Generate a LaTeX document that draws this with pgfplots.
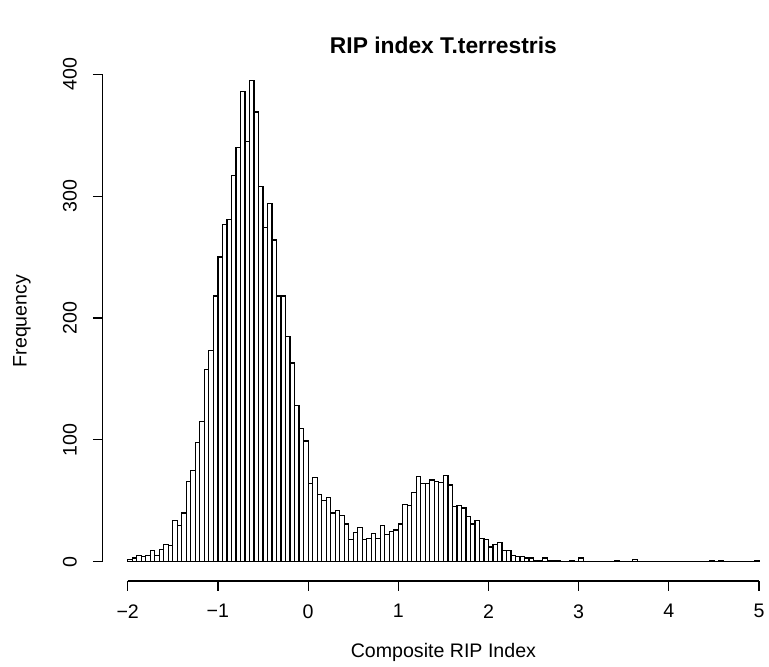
\documentclass[border=0pt]{standalone}
\usepackage{pgfplots}
\pgfplotsset{compat=1.18}
\usepackage{fontspec}
\setmainfont{Liberation Sans}
\newcommand{\lblfont}{\fontsize{9.8}{11}\selectfont}
\begin{document}
\begin{tikzpicture}
\begin{axis}[
  scale only axis,
  x=45.1pt, y=0.60925pt,
  xmin=-2.28, xmax=5.28, ymin=-15.8, ymax=410.8,
  axis lines*=left,
  axis line style={draw=none},
  clip=false,
  xtick={-2,-1,0,1,2,3,4,5},
  xticklabels={−2,−1,0,1,2,3,4,5},
  ytick={0,100,200,300,400},
  yticklabels={0,100,200,300,400},
  tick align=outside,
  major tick length=4.85pt,
  tick style={black, line width=0.6pt},
  xticklabel style={font=\lblfont, anchor=north, yshift=-3.4pt},
  yticklabel style={font=\lblfont, rotate=90, anchor=south, yshift=4.5pt},
]
\addplot[ybar interval, fill=white, draw=black, line width=0.6pt] coordinates {
(-2.00,2) (-1.95,3) (-1.90,5) (-1.85,4) (-1.80,5) (-1.75,9) (-1.70,5) (-1.65,10) (-1.60,14) (-1.55,13)
(-1.50,34) (-1.45,30) (-1.40,40) (-1.35,66) (-1.30,75) (-1.25,98) (-1.20,115) (-1.15,158) (-1.10,173) (-1.05,218)
(-1.00,250) (-0.95,277) (-0.90,281) (-0.85,317) (-0.80,340) (-0.75,386) (-0.70,345) (-0.65,395) (-0.60,369) (-0.55,308)
(-0.50,274) (-0.45,294) (-0.40,264) (-0.35,218) (-0.30,218) (-0.25,185) (-0.20,163) (-0.15,128) (-0.10,109) (-0.05,99)
(0.00,64) (0.05,69) (0.10,55) (0.15,50) (0.20,53) (0.25,40) (0.30,42) (0.35,38) (0.40,31) (0.45,18)
(0.50,24) (0.55,28) (0.60,18) (0.65,19) (0.70,23) (0.75,19) (0.80,30) (0.85,22) (0.90,25) (0.95,26)
(1.00,31) (1.05,47) (1.10,46) (1.15,57) (1.20,70) (1.25,64) (1.30,64) (1.35,67) (1.40,66) (1.45,65)
(1.50,71) (1.55,63) (1.60,45) (1.65,46) (1.70,44) (1.75,37) (1.80,31) (1.85,34) (1.90,19) (1.95,18)
(2.00,12) (2.05,14) (2.10,16) (2.15,9) (2.20,9) (2.25,5) (2.30,4) (2.35,4) (2.40,3) (2.45,3)
(2.50,1) (2.55,1) (2.60,3) (2.65,1) (2.70,1) (2.75,1) (2.80,0) (2.85,0) (2.90,1) (2.95,0)
(3.00,3) (3.05,0) (3.10,0) (3.15,0) (3.20,0) (3.25,0) (3.30,0) (3.35,0) (3.40,1) (3.45,0)
(3.50,0) (3.55,0) (3.60,2) (3.65,0) (3.70,0) (3.75,0) (3.80,0) (3.85,0) (3.90,0) (3.95,0)
(4.00,0) (4.05,0) (4.10,0) (4.15,0) (4.20,0) (4.25,0) (4.30,0) (4.35,0) (4.40,0) (4.45,1)
(4.50,0) (4.55,1) (4.60,0) (4.65,0) (4.70,0) (4.75,0) (4.80,0) (4.85,0) (4.90,0) (4.95,1)
(5.00,0)
};
\draw[line width=0.7pt, black] (axis cs:-2,-15.8) -- (axis cs:5,-15.8);
\draw[line width=0.9pt, black] (axis cs:-2.28,0) -- (axis cs:-2.28,400);
\node[font=\fontsize{11.4}{13}\selectfont\bfseries] at (axis cs:1.5,424) {RIP index T.terrestris};
\node[font=\lblfont] at (axis cs:1.5,-74.1) {Composite RIP Index};
\node[font=\lblfont, rotate=90] at (axis cs:-3.172,197.5) {Frequency};
\coordinate (bl) at (axis cs:-3.416,-85.7);
\coordinate (tr) at (axis cs:5.110,461.0);
\end{axis}
\pgfresetboundingbox
\path[use as bounding box] (bl) rectangle (tr);
\end{tikzpicture}
\end{document}
